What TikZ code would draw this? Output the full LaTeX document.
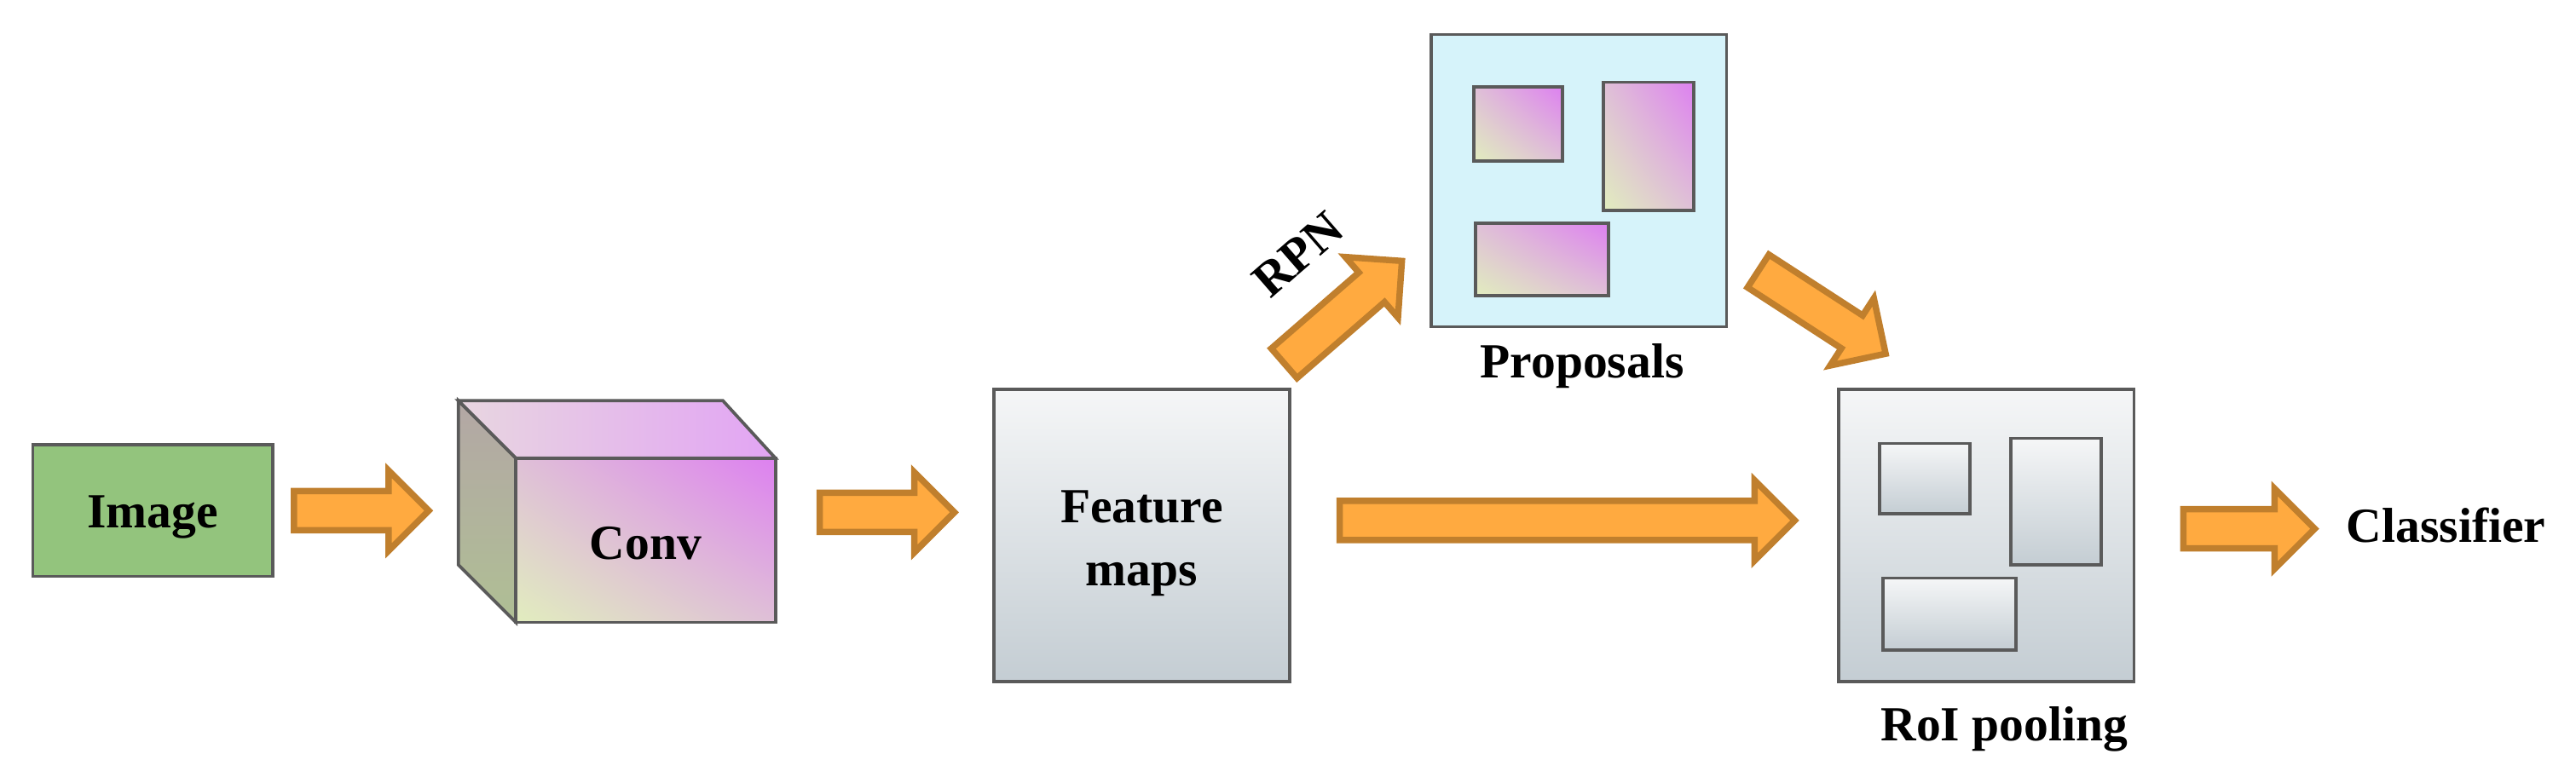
\documentclass[tikz,border=0pt]{standalone}
\usepackage{fontspec}
\setmainfont{Liberation Serif}
\usetikzlibrary{shapes.arrows,calc,shadings}
\definecolor{edge}{HTML}{5A5A5A}
\definecolor{grn}{HTML}{93C47D}
\definecolor{orf}{HTML}{FFAA40}
\definecolor{ord}{HTML}{C07F2D}
\definecolor{lg}{HTML}{E1EDBE}
\definecolor{mg}{HTML}{DD80F0}
\definecolor{mid}{HTML}{DFC0D7}
\definecolor{gtop}{HTML}{F5F6F7}
\definecolor{gbot}{HTML}{C4CDD3}
\definecolor{cyanbg}{HTML}{D6F3FA}
\definecolor{sidetop}{HTML}{B3A7A5}
\definecolor{sidebot}{HTML}{AFBF94}
\definecolor{toplft}{HTML}{E8D6E0}
\definecolor{toprgt}{HTML}{E2A4F4}
\tikzset{
  lbl/.style={font=\fontsize{17}{20}\selectfont\bfseries, inner sep=0pt},
  barrow/.style={single arrow, draw=ord, fill=orf, line width=2.2pt,
    inner xsep=0pt, inner ysep=0.2cm, single arrow head extend=0.25cm},
  mbox/.style={draw=edge, line width=1.1pt},
  grey/.style={mbox, top color=gtop, bottom color=gbot},
  prop/.style={mbox, lower left=lg, upper right=mg, upper left=mid, lower right=mid},
}
\begin{document}
\begin{tikzpicture}[x=0.02cm,y=-0.02cm]
\useasboundingbox (0,0) rectangle (1568,473);
% Image
\node[mbox, fill=grn, minimum width=2.92cm, minimum height=1.6cm, anchor=north west] (img) at (19,270) {};
\node[lbl] at ($(img.center)+(0,4)$) {Image};
% Conv cube
\coordinate (c1) at (279,244); \coordinate (c2) at (440,244);
\coordinate (f1) at (314,279); \coordinate (f2) at (472,279);
\coordinate (f3) at (472,379); \coordinate (f4) at (314,379);
\coordinate (c4) at (279,344);
\path[mbox, top color=sidetop, bottom color=sidebot] (c1) -- (f1) -- (f4) -- (c4) -- cycle;
\path[mbox, left color=toplft, right color=toprgt] (c1) -- (c2) -- (f2) -- (f1) -- cycle;
\path[prop] (f1) rectangle (f3);
\node[lbl] (conv) at ($(f1)!0.5!(f3)+(0,2)$) {Conv};
% Feature maps
\path[grey] (605,237) rectangle (785,415);
\node[lbl, align=center] (feat) at (695,331) {Feature\\[2pt]maps};
% Proposals
\path[mbox, fill=cyanbg] (871,21) rectangle (1051,199);
\path[prop] (897,53) rectangle (951,98);
\path[prop] (976,50) rectangle (1031,128);
\path[prop] (898,136) rectangle (979,180);
\node[lbl] (proplbl) at (963,223) {Proposals};
% RoI pooling
\path[grey] (1119,237) rectangle (1299,415);
\path[grey] (1144,270) rectangle (1199,313);
\path[grey] (1224,267) rectangle (1279,344);
\path[grey] (1146,352) rectangle (1227,396);
\node[lbl] (roilbl) at (1220,444) {RoI pooling};
\node[lbl, anchor=west] (cls) at (1428,320) {Classifier};
% arrows
\node[barrow, minimum height=1.64cm] (a1) at (214,311) {};
\node[barrow, minimum height=1.64cm] (a2) at (534,312) {};
\node[barrow, minimum height=5.54cm] (a3) at (948,317) {};
\node[barrow, minimum height=1.6cm] (a5) at (1363,322) {};
\node[barrow, minimum height=1.9cm, rotate=41] (a4) at (813,194) {};
\node[barrow, minimum height=1.85cm, rotate=-33] (a6) at (1104,187) {};
\node[lbl, rotate=41] (rpn) at (790,155) {RPN};
\end{tikzpicture}
\end{document}
